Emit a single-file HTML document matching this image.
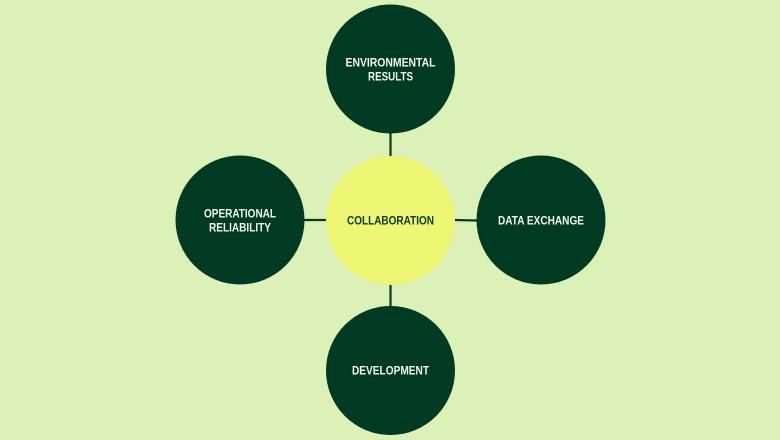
<!DOCTYPE html>
<html><head><meta charset="utf-8"><style>
html,body{margin:0;padding:0;background:#dcf1b8;}
svg{display:block}
text{font-family:"Liberation Sans",sans-serif;font-weight:bold;font-size:12px;text-anchor:middle}
</style></head><body>
<svg width="780" height="440" viewBox="0 0 780 440">
<rect width="780" height="440" fill="#dcf1b8"/>
<g stroke="#0a3a22" stroke-width="2.2">
<line x1="390.5" y1="133" x2="390.5" y2="157"/>
<line x1="390.5" y1="284" x2="390.5" y2="307"/>
<line x1="304" y1="220" x2="327" y2="220"/>
<line x1="454" y1="220" x2="477" y2="220.5"/>
</g>
<g fill="#003a22">
<circle cx="390.5" cy="69" r="64.5"/>
<circle cx="240" cy="220" r="64.5"/>
<circle cx="541" cy="220" r="64.5"/>
<circle cx="390.5" cy="370.5" r="64.5"/>
</g>
<circle cx="390.5" cy="220.5" r="64.5" fill="#eef774"/>
<g fill="#f2f8ea">
<text x="390.5" y="66.5" textLength="90" lengthAdjust="spacingAndGlyphs">ENVIRONMENTAL</text>
<text x="390.5" y="80.5" textLength="45" lengthAdjust="spacingAndGlyphs">RESULTS</text>
<text x="240" y="217.5" textLength="72" lengthAdjust="spacingAndGlyphs">OPERATIONAL</text>
<text x="240" y="231.5" textLength="62" lengthAdjust="spacingAndGlyphs">RELIABILITY</text>
<text x="541" y="224.5" textLength="86" lengthAdjust="spacingAndGlyphs">DATA EXCHANGE</text>
<text x="390.5" y="374.5" textLength="77" lengthAdjust="spacingAndGlyphs">DEVELOPMENT</text>
</g>
<text x="390.5" y="224.5" fill="#0a3a22" textLength="87" lengthAdjust="spacingAndGlyphs">COLLABORATION</text>
</svg>
</body></html>
